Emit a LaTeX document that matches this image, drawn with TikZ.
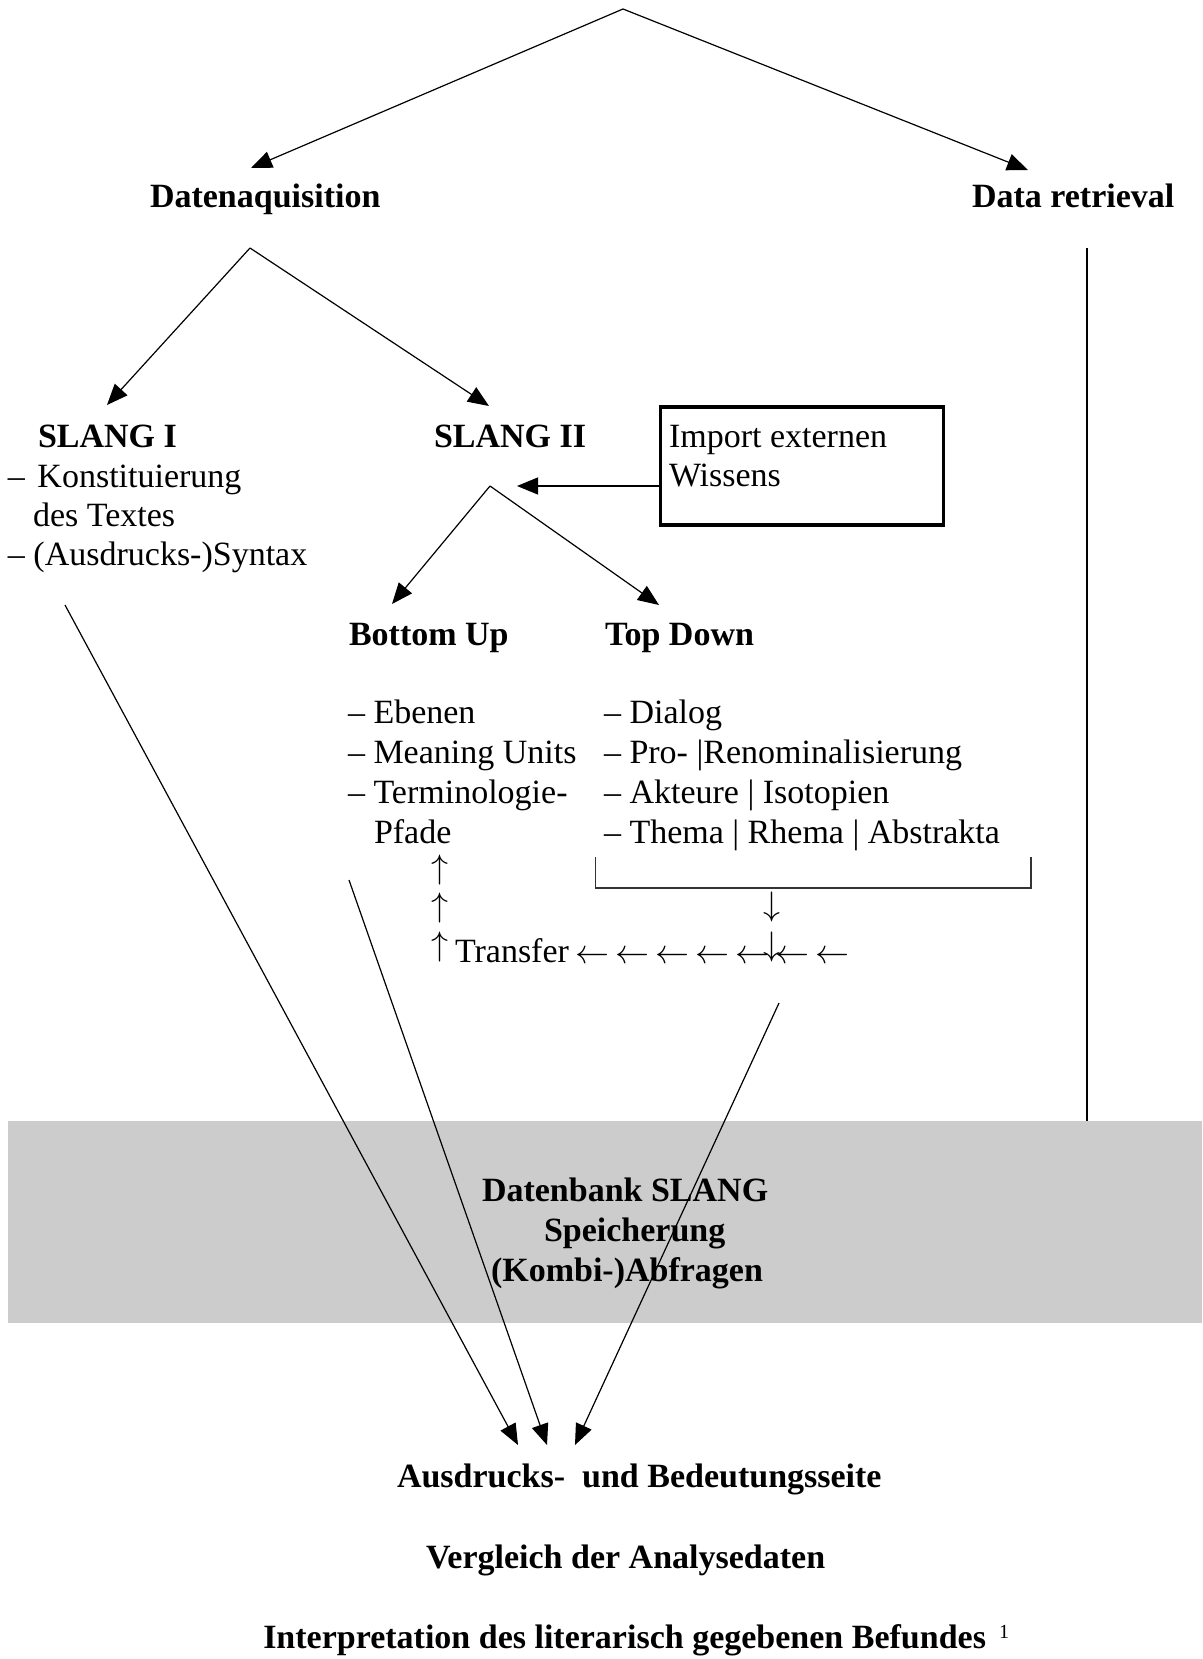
\documentclass[tikz,border=0pt]{standalone}
\usepackage{graphicx}
\usepackage{fontspec}
\setmainfont{Liberation Serif}
\usetikzlibrary{arrows.meta}
\definecolor{bandgray}{RGB}{204,204,204}
\newcommand\arrglyph[1]{\scalebox{3.4}{\fontsize{10}{12}\selectfont$#1$}}
\begin{document}
\begin{tikzpicture}[x=1pt,y=-1pt,
  every node/.style={inner sep=0pt, outer sep=0pt, font=\fontsize{34}{39.4}\selectfont},
  txt/.style={anchor=base west},
  bftxt/.style={anchor=base west, font=\fontsize{34}{39.4}\selectfont\bfseries},
  conn/.style={line width=1.2pt, -{Triangle[length=21pt,width=17pt]}},
  bracketline/.style={line width=1.6pt, draw=black!80}]
\useasboundingbox (0,0) rectangle (1202,1659);

% grey band
\node (band) [fill=bandgray, minimum width=1194pt, minimum height=202pt, anchor=north west] at (8,1121) {};
\node (db1) [bftxt] at (482,1201) {Datenbank SLANG};
\node (db2) [bftxt] at (544,1241) {Speicherung};
\node (db3) [bftxt] at (491,1281) {(Kombi-)Abfragen};

% level 1
\node (daq) [bftxt] at (150,207) {Datenaquisition};
\node (dret) [bftxt] at (972,207) {Data retrieval};
\coordinate (top) at (623,9);
\coordinate (tipDA) at (251,168);
\coordinate (tipDR) at (1028,170);
\draw[conn] (top) -- (tipDA);
\draw[conn] (top) -- (tipDR);

% data retrieval vertical line
\coordinate (drtop) at (1087,248);
\draw[line width=2.5pt] (drtop) -- (drtop |- band.north);

% level 2
\coordinate (apex2) at (250,248);
\coordinate (tipS1) at (107,405);
\coordinate (tipS2) at (489,406);
\draw[conn] (apex2) -- (tipS1);
\draw[conn] (apex2) -- (tipS2);

\node (s1) [bftxt] at (38,447) {SLANG I};
\node (s1a) [txt] at (8,487) {–\hspace{12.5pt}Konstituierung};
\node (s1b) [txt] at (33,526) {des Textes};
\node (s1c) [txt] at (8,565) {– (Ausdrucks-)Syntax};

\node (s2) [bftxt] at (434,447) {SLANG II};

% import box
\node (box) [draw, line width=3.5pt, minimum width=283.2pt, minimum height=118pt, anchor=north west] at (660.5,407) {};
\node (imp1) [txt] at (669,447) {Import externen};
\node (imp2) [txt] at (669,486) {Wissens};
\coordinate (tipImp) at (517,486);
\draw[conn] (box.west |- imp2.base) -- (tipImp);

% level 3
\coordinate (apex3) at (490,486);
\coordinate (tipBU) at (392,604);
\coordinate (tipTD) at (659,605);
\draw[conn] (apex3) -- (tipBU);
\draw[conn] (apex3) -- (tipTD);

\node (bu) [bftxt] at (349,645) {Bottom Up};
\node (td) [bftxt] at (605,645) {Top Down};

\node (bu1) [txt] at (348,723) {– Ebenen};
\node (bu2) [txt] at (348,763) {– Meaning Units};
\node (bu3) [txt] at (348,803) {– Terminologie-};
\node (bu4) [txt] at (374,843) {Pfade};

\node (td1) [txt] at (604,723) {– Dialog};
\node (td2) [txt] at (604,763) {– Pro- |Renominalisierung};
\node (td3) [txt] at (604,803) {– Akteure | Isotopien};
\node (td4) [txt] at (604,843) {– Thema | Rhema | Abstrakta};

% bracket
\coordinate (brL) at (595.5,857);
\coordinate (brR) at (1031,857);
\coordinate (brLb) at (595.5,888);
\coordinate (brRb) at (1031,888);
\draw[bracketline] (brL) -- (brLb) -- (brRb) -- (brR);

% transfer row
\node (up1) at (440,870) {\arrglyph{\uparrow}};
\node (up2) at (440,908) {\arrglyph{\uparrow}};
\node (up3) at (440,947) {\arrglyph{\uparrow}};
\node (transfer) [txt] at (455,962) {Transfer};
\foreach \i in {0,...,6} {
  \node (la\i) at (592+40*\i,957) {\arrglyph{\leftarrow}};
}
\node (dn1) at (772,907) {\arrglyph{\downarrow}};
\node (dn2) at (772,947) {\arrglyph{\downarrow}};

% long lines to bottom
\coordinate (l1s) at (65,605);
\coordinate (l2s) at (349,880);
\coordinate (l3s) at (779,1003);
\coordinate (tipB1) at (518,1445);
\coordinate (tipB2) at (547,1445);
\coordinate (tipB3) at (575,1445);
\draw[conn] (l1s) -- (tipB1);
\draw[conn] (l2s) -- (tipB2);
\draw[conn] (l3s) -- (tipB3);

% bottom texts
\node (aus) [bftxt] at (397,1487) {Ausdrucks-\ \ und Bedeutungsseite};
\node (verg) [bftxt] at (426,1568) {Vergleich der Analysedaten};
\node (interp) [bftxt, anchor=base east] at (986,1648) {Interpretation des literarisch gegebenen Befundes};
\node (fn) [anchor=base west, font=\fontsize{20}{24}\selectfont] at (999,1638) {1};
\end{tikzpicture}
\end{document}
